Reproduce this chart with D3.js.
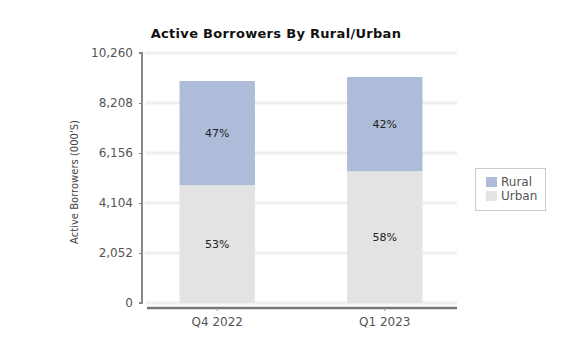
<!DOCTYPE html>
<html><head><meta charset="utf-8">
<script src="https://cdn.jsdelivr.net/npm/d3@7"></script>
<style>body{margin:0;background:#fff;}svg{display:block;font-family:"DejaVu Sans",Verdana,sans-serif;}</style>
</head><body>
<svg id="c" width="566" height="344"></svg>
<script>
const categories = ["Q4 2022", "Q1 2023"];
const seriesNames = ["Urban", "Rural"];
const urban = [4840, 5410];
const rural = [4270, 3865];
const urbanPct = ["53%", "58%"];
const ruralPct = ["47%", "42%"];
const yTicks = [0, 2052, 4104, 6156, 8208, 10260];
const colors = {Rural: "#aebcd9", Urban: "#e3e3e3"};

(function () {
const svg = d3.select("#c");
const pLeft = 142, pRight = 457, pTop = 53, pBottom = 303;
const y = d3.scaleLinear().domain([0, 10260]).range([pBottom, pTop]);
const x = d3.scaleBand().domain(categories).range([146, 456]).paddingInner(0.55).paddingOuter(0.2);

// title
svg.append("text").attr("x", 276).attr("y", 38).attr("text-anchor", "middle")
  .attr("font-size", 13).attr("font-weight", "bold").attr("fill", "#111").attr("letter-spacing", 0.3)
  .text("Active Borrowers By Rural/Urban");

// gridlines
svg.append("g").selectAll("line").data(yTicks).join("line")
  .attr("x1", 145).attr("x2", pRight).attr("y1", d => y(d)).attr("y2", d => y(d))
  .attr("stroke", "#efefef").attr("stroke-width", 3);

// y axis
const yAxis = d3.axisLeft(y).tickValues(yTicks).tickFormat(d3.format(",")).tickSize(3).tickPadding(6);
const gy = svg.append("g").attr("transform", `translate(${pLeft},0)`).call(yAxis);
gy.select(".domain").attr("stroke", "#888").attr("stroke-width", 2).attr("d", `M-3,${pTop}H0V${pBottom}H-3`);
gy.selectAll(".tick line").attr("stroke", "#888");
gy.selectAll("text").attr("font-size", 12).attr("fill", "#555").attr("font-family", "DejaVu Sans, sans-serif");

// y label
svg.append("text").attr("transform", "translate(78,182) rotate(-90)").attr("text-anchor", "middle")
  .attr("font-size", 10).attr("fill", "#444").text("Active Borrowers (000'S)");

// bars
const data = categories.map((c, i) => ({cat: c, Urban: urban[i], Rural: rural[i]}));
const stack = d3.stack().keys(seriesNames)(data);
svg.append("g").selectAll("g").data(stack).join("g").attr("fill", d => colors[d.key])
  .selectAll("rect").data(d => d).join("rect")
  .attr("x", d => x(d.data.cat)).attr("width", x.bandwidth())
  .attr("y", d => y(d[1])).attr("height", d => y(d[0]) - y(d[1]));

// percent labels
const pcts = {Urban: urbanPct, Rural: ruralPct};
stack.forEach(s => {
  s.forEach((d, i) => {
    svg.append("text").attr("x", x(d.data.cat) + x.bandwidth() / 2)
      .attr("y", (y(d[0]) + y(d[1])) / 2).attr("dy", "0.35em").attr("text-anchor", "middle")
      .attr("font-size", 11).attr("fill", "#222").text(pcts[s.key][i]);
  });
});

// x axis
const xAxis = d3.axisBottom(x).tickSize(3).tickPadding(6);
const gx = svg.append("g").attr("transform", "translate(0,308)").call(xAxis);
gx.select(".domain").attr("stroke", "#777").attr("stroke-width", 2.5).attr("d", "M147,0H457");
gx.selectAll(".tick line").attr("stroke", "#999");
gx.selectAll("text").attr("font-size", 12).attr("fill", "#555").attr("font-family", "DejaVu Sans, sans-serif");

// legend
const lg = svg.append("g");
lg.append("rect").attr("x", 475.5).attr("y", 168.5).attr("width", 70).attr("height", 42)
  .attr("fill", "#fff").attr("stroke", "#ccc");
["Rural", "Urban"].forEach((k, i) => {
  lg.append("rect").attr("x", 486).attr("y", 177 + i * 14).attr("width", 11).attr("height", 10).attr("fill", colors[k]);
  lg.append("text").attr("x", 501).attr("y", 182 + i * 14).attr("dy", "0.35em")
    .attr("font-size", 12).attr("fill", "#555").text(k);
});
})();
</script>
</body></html>
